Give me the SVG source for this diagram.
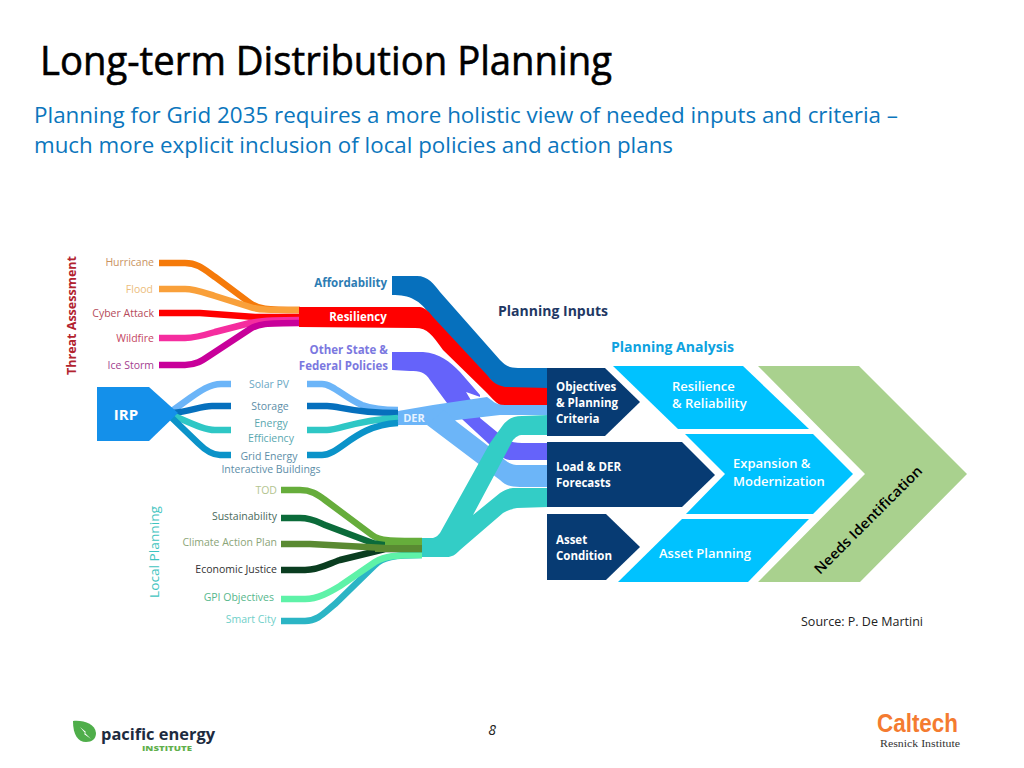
<svg xmlns="http://www.w3.org/2000/svg" width="1024" height="768" viewBox="0 0 1024 768">
<style>
text{font-family:"Open Sans","Liberation Sans",sans-serif}
.lb{font-size:10.5px;text-anchor:end}
.mid{font-size:10.5px;text-anchor:middle}
.c{fill:none;stroke-width:6.5}
.nw{fill:#fff;font-weight:700;font-size:11.5px}
.an{fill:#fff;font-weight:600;font-size:13px}
.sub{fill:#0b76bd;font-size:21.5px}
.pol{fill:#7b78e0;font-size:11.5px;font-weight:700;text-anchor:end}
.teal{fill:#33cdc6}
.sky{fill:#6cb5f8}
.cal{font-family:"Liberation Sans",sans-serif;fill:#f47b30;font-size:25px;font-weight:700}
.res{font-family:"Liberation Serif",serif;fill:#333;font-size:11px}
</style>
<rect width="1024" height="768" fill="#fff"/>
<g id="header">
<text x="40" y="75" font-size="40" fill="#000" stroke="#000" stroke-width=".6" textLength="572" lengthAdjust="spacingAndGlyphs">Long-term Distribution Planning</text>
<text class="sub" x="34" y="123" textLength="864" lengthAdjust="spacingAndGlyphs">Planning for Grid 2035 requires a more holistic view of needed inputs and criteria –</text>
<text class="sub" x="34" y="153" textLength="639" lengthAdjust="spacingAndGlyphs">much more explicit inclusion of local policies and action plans</text>
</g>
<g id="connectors">
<path class="c" stroke="#f57a0a" d="M159,263H185C198,263 205,270 215,277L250,303C258,309 265,310 300,310"/>
<path class="c" stroke="#f9a03a" d="M159,289H185C195,289 205,293 215,296L250,307C258,310 270,310 300,310"/>
<path class="c" stroke="#ff0000" d="M159,313H200L255,317H300"/>
<path class="c" stroke="#f52d9f" d="M159,338H185C195,338 205,335 215,332L250,323C258,321 270,320 300,320"/>
<path class="c" stroke="#c8009a" d="M159,365H185C197,365 203,360 212,354L250,329C258,324 265,323 300,323"/>
<path fill="#0670bd" d="M392,276H417C428,276 434,284 440,292L500,360C505,365 508,368 518,368H548V390H500L430,315C420,300 410,295 392,295Z"/>
<path fill="#6563fa" d="M392,352H423C440,353 450,362 460,372L480,395L480,418L497,432L507,440C510,442 515,443 522,443H548V460H510C505,460 500,456 490,445L463,420L447,403L430,380C425,372 420,371 410,371L392,370Z"/>
<path fill="#ff0000" d="M299,307H420C426,308 430,313 433,317L487,375C491,380 495,385 505,387L548,388V405H500C495,402 491,397 487,393L443,350C432,335 428,328 415,328L299,327Z"/>
<path fill="#fff" d="M466,392L486,399L472,402Z"/>
<path class="sky" d="M398,411L433,405L487,397C492,400 495,405 505,405H548V415H500L457,420L427,425H398Z"/>
<path class="sky" d="M427,425L444,410L457,422L487,445L505,460C510,464 513,465 520,465H548V487H520C510,487 505,485 500,480L480,465Z"/>
<path class="teal" d="M422,538H433C437,537 438,535 440,533L490,443L503,425C508,419 513,416 522,416L548,415V435H523C518,435 516,437 513,440L473,515L500,493C505,490 508,488 515,488H548V507L517,508C511,509 507,511 503,513L460,550C455,555 452,557 447,557H422Z"/>
<path class="c" stroke="#6cb5f8" d="M231,384H221C210,384 200,391 190,398L172,411"/>
<path class="c" stroke="#0670bd" d="M231,406H212C200,406 190,412 172,413"/>
<path class="c" stroke="#2fc7c5" d="M231,430H215C205,430 195,425 172,415"/>
<path class="c" stroke="#0b93c9" d="M231,455H220C212,455 205,450 198,443L172,418"/>
<path class="c" stroke="#6cb5f8" d="M307,384H322C333,384 345,398 362,405C370,408 380,410 398,410"/>
<path class="c" stroke="#0670bd" d="M307,406H327C340,406 350,413 398,413"/>
<path class="c" stroke="#2fc7c5" d="M307,430H327C340,430 355,420 398,418"/>
<path class="c" stroke="#0b93c9" d="M307,455H322C340,455 355,425 398,423"/>
<path class="c" stroke="#2bb5c5" d="M281,621H305C318,621 325,612 335,604L375,565C382,557 395,555 422,555"/>
<path class="c" stroke="#5ef2a8" d="M281,599H305C318,599 330,592 340,586L375,562C385,556 395,555 422,555"/>
<path class="c" stroke="#66ad3b" d="M281,490H300C312,490 318,495 325,500L372,535C380,541 390,541 422,541"/>
<path class="c" stroke="#0b6b3a" d="M281,518H300C312,518 318,522 325,525L370,542C380,546 395,546 422,546"/>
<path class="c" stroke="#0a3d20" d="M281,570H305C320,570 330,563 340,560L385,549H422"/>
<path class="c" stroke="#5a8a32" d="M281,544H310L385,548H422"/>
<path fill="#66ad3b" d="M385,538H422V545H385Z"/>
<path fill="#5a8a32" d="M375,545H422V552H375Z"/>
</g>
<g id="threat-assessment">
<text transform="translate(76,375) rotate(-90)" fill="#b2232f" font-size="13" font-weight="700" textLength="119" lengthAdjust="spacingAndGlyphs">Threat Assessment</text>
<text class="lb" x="154" y="266" fill="#c9935f">Hurricane</text>
<text class="lb" x="153" y="293" fill="#ecbd7c">Flood</text>
<text class="lb" x="154" y="317" fill="#b54a5a">Cyber Attack</text>
<text class="lb" x="154" y="342" fill="#c4465f">Wildfire</text>
<text class="lb" x="154" y="369" fill="#a3408f">Ice Storm</text>
</g>
<g id="resiliency"><text x="358" y="321" fill="#fff" font-size="11.5" font-weight="700" text-anchor="middle">Resiliency</text></g>
<g id="affordability"><text x="387" y="287" fill="#2d7cb3" font-size="11.5" font-weight="700" text-anchor="end">Affordability</text></g>
<g id="other-policies"><text class="pol" x="388" y="354">Other State &amp;</text><text class="pol" x="388" y="370">Federal Policies</text></g>
<g id="irp"><path fill="#1490ea" d="M97,387H149L178,413L149,441H97Z"/><text x="126" y="420" fill="#fff" font-size="15" font-weight="700" text-anchor="middle">IRP</text></g>
<g id="der-sources">
<text class="mid" x="269" y="388" fill="#6aa8c4">Solar PV</text>
<text class="mid" x="270" y="410" fill="#5d8ea8">Storage</text>
<text class="mid" x="271" y="427" fill="#5aa8b0">Energy</text>
<text class="mid" x="271" y="442" fill="#5aa8b0">Efficiency</text>
<text class="mid" x="269" y="460" fill="#5d8ea8">Grid Energy</text>
<text class="mid" x="271" y="473" fill="#5d8ea8">Interactive Buildings</text>
</g>
<g id="der"><text x="414" y="422" fill="#e8f3ff" font-size="11" font-weight="700" text-anchor="middle">DER</text></g>
<g id="local-planning">
<text transform="translate(159,598) rotate(-90)" fill="#3fc4c0" font-size="12.5" textLength="92" lengthAdjust="spacingAndGlyphs">Local Planning</text>
<text class="lb" x="277" y="494" fill="#b3c48f">TOD</text>
<text class="lb" x="277" y="520" fill="#4a6a5c">Sustainability</text>
<text class="lb" x="277" y="546" fill="#8ba578">Climate Action Plan</text>
<text class="lb" x="277" y="573" fill="#333">Economic Justice</text>
<text class="lb" x="274" y="601" fill="#55b78c">GPI Objectives</text>
<text class="lb" x="276" y="623" fill="#6fcfc9">Smart City</text>
</g>
<g id="planning-inputs-label"><text x="498" y="316" fill="#1f3864" font-size="13.5" font-weight="700" textLength="110" lengthAdjust="spacingAndGlyphs">Planning Inputs</text></g>
<g id="planning-analysis-label"><text x="611" y="352" fill="#0da2e0" font-size="13.5" font-weight="700" textLength="123" lengthAdjust="spacingAndGlyphs">Planning Analysis</text></g>
<g id="objectives"><path fill="#073b73" d="M547,368H605L640,402L605,436H547Z"/><text class="nw" x="556" y="391">Objectives</text><text class="nw" x="556" y="407">&amp; Planning</text><text class="nw" x="556" y="423">Criteria</text></g>
<g id="forecasts"><path fill="#073b73" d="M547,442H682L715,475L682,507H547Z"/><text class="nw" x="556" y="471">Load &amp; DER</text><text class="nw" x="556" y="487">Forecasts</text></g>
<g id="asset-condition"><path fill="#073b73" d="M547,514H606L640,547L606,580H547Z"/><text class="nw" x="556" y="544">Asset</text><text class="nw" x="556" y="560">Condition</text></g>
<g id="resilience"><path fill="#00c2ff" d="M613,366H743L809,429H678Z"/><text class="an" x="672" y="391">Resilience</text><text class="an" x="672" y="408">&amp; Reliability</text></g>
<g id="expansion"><path fill="#00c2ff" d="M685,434H813L853,474L813,514H686L725,474Z"/><text class="an" x="733" y="468">Expansion &amp;</text><text class="an" x="733" y="486">Modernization</text></g>
<g id="asset-planning"><path fill="#00c2ff" d="M682,519H809L748,582H618Z"/><text class="an" x="659" y="558">Asset Planning</text></g>
<g id="needs-identification"><path fill="#a9d18e" d="M758,366H859L967,474L860,582H758L865,474Z"/><text transform="translate(820,575) rotate(-45)" fill="#000" font-size="14" font-weight="600" textLength="146" lengthAdjust="spacingAndGlyphs">Needs Identification</text></g>
<g id="source"><text x="801" y="626" fill="#222" font-size="12" textLength="122" lengthAdjust="spacingAndGlyphs">Source: P. De Martini</text></g>
<g id="page"><text x="492" y="735" fill="#222" font-size="14" font-style="italic" text-anchor="middle">8</text></g>
<g id="pacific-logo">
<path fill="#4fae4a" d="M73,721C84,720 95,724 96,733C96,739 92,742 86,742C78,742 73,735 73,721Z"/>
<path fill="#fff" d="M80,727L86,732L85,733L91,739L84,734L85,733Z"/>
<text x="101" y="740" fill="#1d2b3f" font-size="16.5" font-weight="700" textLength="114" lengthAdjust="spacingAndGlyphs">pacific energy</text>
<text x="142" y="751" fill="#62b04c" font-size="7" font-weight="800" textLength="50" lengthAdjust="spacingAndGlyphs">INSTITUTE</text>
</g>
<g id="caltech-logo">
<text class="cal" x="877" y="732" textLength="81" lengthAdjust="spacingAndGlyphs">Caltech</text>
<text class="res" x="880" y="747" textLength="80" lengthAdjust="spacingAndGlyphs">Resnick Institute</text>
</g>
</svg>
